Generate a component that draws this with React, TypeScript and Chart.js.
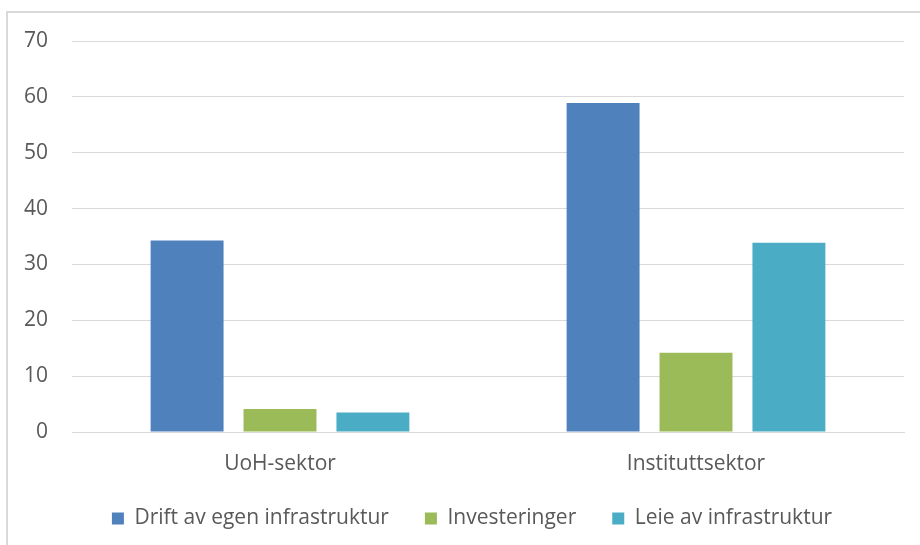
import React, { useEffect, useRef } from "react";
import { Chart, registerables } from "chart.js";

Chart.register(...registerables);

const categories = ["UoH-sektor", "Instituttsektor"];
const seriesNames = ["Drift av egen infrastruktur", "Investeringer", "Leie av infrastruktur"];
const driftValues = [34.3, 58.9];
const investValues = [4.1, 14.2];
const leieValues = [3.5, 33.9];
const seriesColors = ["#4F81BD", "#9BBB59", "#4BACC6"];
const yMin = 0;
const yMax = 70;
const yStep = 10;

const FONT = "'Open Sans', sans-serif";

const legendShift = {
  id: "legendShift",
  afterLayout(chart: any) {
    const l = chart.legend;
    if (l) {
      l.left += 20;
      l.right += 20;
    }
  },
};

export default function App() {
  const ref = useRef<HTMLCanvasElement | null>(null);

  useEffect(() => {
    document.body.style.margin = "0";
    if (!ref.current) return;
    const values = [driftValues, investValues, leieValues];
    const chart = new Chart(ref.current, {
      type: "bar",
      data: {
        labels: categories,
        datasets: seriesNames.map((name, i) => ({
          label: name,
          data: values[i],
          backgroundColor: seriesColors[i],
          borderWidth: 0,
          categoryPercentage: 0.67,
          barPercentage: 0.785,
        })),
      },
      options: {
        animation: false,
        responsive: false,
        maintainAspectRatio: false,
        layout: { padding: { top: 41, right: 16, bottom: 6, left: 0 } },
        plugins: {
          tooltip: { enabled: false },
          legend: {
            position: "bottom",
            labels: {
              font: { family: FONT, size: 21 },
              color: "#595959",
              boxWidth: 12,
              boxHeight: 12,
              padding: 36,
            },
          },
        },
        scales: {
          x: {
            grid: { display: false, drawTicks: false },
            border: { display: true, color: "#d9d9d9", width: 1 },
            ticks: { font: { family: FONT, size: 21 }, color: "#595959", padding: 19 },
            afterFit: (s: any) => {
              s.height = 40;
            },
          },
          y: {
            min: yMin,
            max: yMax,
            grid: { color: "#d9d9d9", lineWidth: 1, drawTicks: false },
            border: { display: false },
            ticks: {
              stepSize: yStep,
              font: { family: FONT, size: 21 },
              color: "#595959",
              padding: 24,
            },
            afterFit: (s: any) => {
              s.width = 72;
            },
          },
        },
      },
      plugins: [legendShift],
    });
    return () => chart.destroy();
  }, []);

  return (
    <div style={{ position: "relative", width: 920, height: 545, overflow: "hidden", background: "#fff" }}>
      <div
        style={{
          position: "absolute",
          left: 6,
          top: 11,
          width: 940,
          height: 560,
          border: "2px solid #d9d9d9",
          boxSizing: "border-box",
        }}
      />
      <canvas ref={ref} width={920} height={545} style={{ position: "absolute", left: 0, top: 0 }} />
    </div>
  );
}
